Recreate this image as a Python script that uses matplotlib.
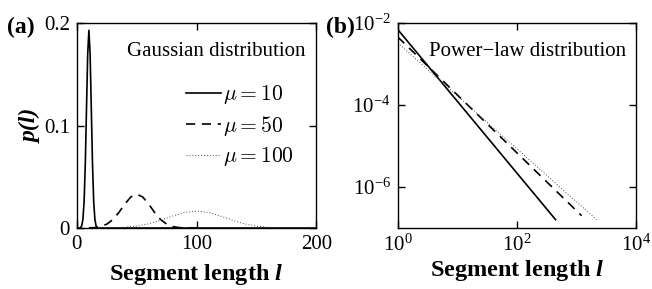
import matplotlib
matplotlib.use("Agg")
import matplotlib.pyplot as plt
from matplotlib.font_manager import FontProperties
from matplotlib.ticker import FixedLocator, NullLocator, LogFormatterMathtext

plt.rcParams['font.family'] = ['Liberation Serif', 'DejaVu Serif']
plt.rcParams['mathtext.fontset'] = 'custom'
plt.rcParams['mathtext.rm'] = 'Liberation Serif'
plt.rcParams['mathtext.it'] = 'Liberation Serif:italic'
plt.rcParams['mathtext.bf'] = 'Liberation Serif:bold:italic'
plt.rcParams['font.size'] = 15

# (a) Gaussian curves
x_mu10 = [0, 2, 3, 4, 5, 6, 7, 8, 9, 10, 11, 12, 13, 14, 15, 16, 17, 18, 20, 200]
p_mu10 = [0, 0, 0.0004, 0.0021, 0.0085, 0.026, 0.063, 0.117, 0.170, 0.193,
          0.170, 0.117, 0.063, 0.026, 0.0085, 0.0021, 0.0004, 0, 0, 0]

x_mu50 = [10, 15, 20, 25, 30, 35, 40, 45, 50, 55, 60, 65, 70, 75, 80, 85, 90, 95, 100]
p_mu50 = [0.00013, 0.00047, 0.00145, 0.0038, 0.0082, 0.0151, 0.0233, 0.0303, 0.033,
          0.0303, 0.0233, 0.0151, 0.0082, 0.0038, 0.00145, 0.00047, 0.00013, 0.00003, 0]

x_mu100 = [20, 30, 40, 50, 60, 70, 80, 90, 100, 110, 120, 130, 140, 150, 160, 170, 180, 190, 200]
p_mu100 = [0.00006, 0.00024, 0.00073, 0.0019, 0.0041, 0.0076, 0.0117, 0.0152, 0.0166,
           0.0152, 0.0117, 0.0076, 0.0041, 0.0019, 0.00073, 0.00024, 0.00006, 0.00002, 0]

# (b) power-law lines (straight in log-log), end points
x_pl1 = [1, 450]
p_pl1 = [7.0e-3, 1.6e-7]
x_pl2 = [1, 1230]
p_pl2 = [4.6e-3, 2.0e-7]
x_pl3 = [1, 2200]
p_pl3 = [3.3e-3, 1.6e-7]

labels = [r'$\mu = 10$', r'$\mu = 50$', r'$\mu = 100$']

fig = plt.figure(figsize=(6.52, 2.89), dpi=100)
ax1 = fig.add_axes([0.118, 0.211, 0.367, 0.709])
ax2 = fig.add_axes([0.610, 0.211, 0.365, 0.709])

for ax in (ax1, ax2):
    for s in ax.spines.values():
        s.set_linewidth(1.0)
    ax.tick_params(direction='in', length=5, width=1.0, top=True, right=True,
                   labelsize=15, pad=5)

dash = (0, (5.5, 4))
dots = (0, (1, 2))

# panel (a)
ax1.plot(x_mu10, p_mu10, color='k', lw=1.2, ls='-', label=labels[0])
ax1.plot(x_mu50, p_mu50, color='k', lw=1.2, ls=dash, label=labels[1])
ax1.plot(x_mu100, p_mu100, color='0.3', lw=0.7, ls=dots, label=labels[2])
ax1.set_xlim(0, 200)
ax1.set_ylim(0, 0.2)
ax1.set_xticks([0, 100, 200])
ax1.set_xticklabels(['0', '100', '200'])
ax1.set_yticks([0, 0.1, 0.2])
ax1.set_yticklabels(['0', '0.1', '0.2'])
ax1.set_ylabel('p(l)', fontsize=17, fontweight='bold', fontstyle='italic', labelpad=2)
ax1.set_xlabel(r'Segment length $\mathbf{l}$', fontsize=17.5, fontweight='bold', labelpad=6)
ax1.text(0.955, 0.86, 'Gaussian distribution', transform=ax1.transAxes,
         ha='right', va='center', fontsize=15)
ax1.legend(loc='upper right', bbox_to_anchor=(0.95, 0.76), frameon=False,
           handlelength=1.6, handletextpad=0.1, labelspacing=0.35,
           borderaxespad=0.1, prop=FontProperties(size=15.5, math_fontfamily='cm'))
fig.text(0.01, 0.905, '(a)', fontsize=17, fontweight='bold', va='center')

# panel (b)
ax2.plot(x_pl1, p_pl1, color='k', lw=1.2, ls='-')
ax2.plot(x_pl2, p_pl2, color='k', lw=1.2, ls=dash)
ax2.plot(x_pl3, p_pl3, color='0.3', lw=0.7, ls=dots)
ax2.set_xscale('log')
ax2.set_yscale('log')
ax2.set_xlim(1, 1e4)
ax2.set_ylim(1e-7, 1e-2)
ax2.xaxis.set_major_locator(FixedLocator([1, 1e2, 1e4]))
ax2.yaxis.set_major_locator(FixedLocator([1e-6, 1e-4, 1e-2]))
ax2.xaxis.set_major_formatter(LogFormatterMathtext())
ax2.yaxis.set_major_formatter(LogFormatterMathtext())
ax2.xaxis.set_minor_locator(NullLocator())
ax2.yaxis.set_minor_locator(NullLocator())
ax2.set_xlabel(r'Segment length $\mathbf{l}$', fontsize=17.5, fontweight='bold', labelpad=1)
ax2.text(0.96, 0.86, 'Power\u2212law distribution', transform=ax2.transAxes,
         ha='right', va='center', fontsize=15)
fig.text(0.5, 0.905, '(b)', fontsize=17, fontweight='bold', va='center')

fig.savefig('out.png', dpi=100)
